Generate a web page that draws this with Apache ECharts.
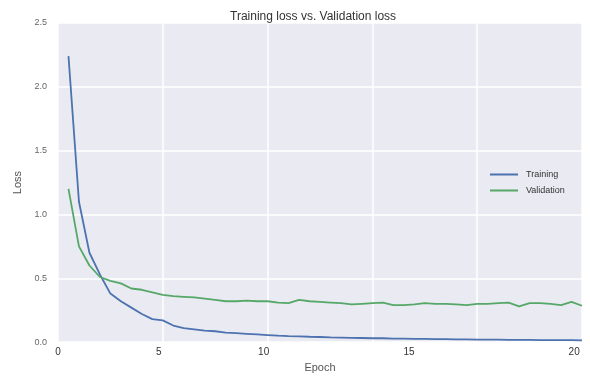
<!DOCTYPE html>
<html>
<head>
<meta charset="utf-8">
<script src="https://cdn.jsdelivr.net/npm/echarts@6/dist/echarts.min.js"></script>
<style>html,body{margin:0;padding:0;background:#fff}#c{width:590px;height:378px}</style>
</head>
<body>
<div id="c"></div>
<script>
var epochs = [0.4,0.8,1.2,1.6,2.0,2.4,2.8,3.2,3.6,4.0,4.4,4.8,5.2,5.6,6.0,6.4,6.8,7.2,7.6,8.0,8.4,8.8,9.2,9.6,10.0,10.4,10.8,11.2,11.6,12.0,12.4,12.8,13.2,13.6,14.0,14.4,14.8,15.2,15.6,16.0,16.4,16.8,17.2,17.6,18.0,18.4,18.8,19.2,19.6,20.0];
var trainingLoss = [2.24,1.10,0.70,0.53,0.38,0.32,0.27,0.22,0.18,0.17,0.13,0.11,0.10,0.09,0.085,0.075,0.07,0.065,0.06,0.055,0.05,0.047,0.045,0.042,0.04,0.037,0.035,0.033,0.032,0.03,0.03,0.028,0.027,0.026,0.025,0.024,0.023,0.022,0.021,0.02,0.02,0.019,0.018,0.018,0.017,0.016,0.016,0.015,0.015,0.014];
var validationLoss = [1.20,0.75,0.60,0.51,0.48,0.46,0.42,0.41,0.39,0.37,0.36,0.355,0.35,0.34,0.33,0.32,0.32,0.325,0.32,0.32,0.31,0.305,0.33,0.32,0.315,0.31,0.305,0.295,0.30,0.305,0.31,0.29,0.29,0.295,0.305,0.30,0.30,0.295,0.29,0.30,0.30,0.305,0.31,0.28,0.305,0.305,0.30,0.29,0.315,0.285];
var xTickLabels = ['0','5','10','15','20'];
var xTickValues = [0, 3.85, 7.85, 13.4, 19.7];
var yTicks = [0, 0.5, 1.0, 1.5, 2.0, 2.5];

function pairs(xs, ys){ return xs.map(function(x,i){ return [x, ys[i]]; }); }

var chart = echarts.init(document.getElementById('c'), null, {renderer:'canvas'});
var font = "'Liberation Sans', Arial, sans-serif";
chart.setOption({
  animation: false,
  textStyle: {fontFamily: font},
  title: {
    text: 'Training loss vs. Validation loss',
    left: 225, top: 6,
    textStyle: {fontSize: 12, fontWeight: 'normal', color: '#333', fontFamily: font}
  },
  legend: {
    orient: 'vertical',
    left: 490, top: 170, padding: 0,
    icon: 'rect',
    itemWidth: 28, itemHeight: 2, itemGap: 7,
    textStyle: {fontSize: 9, color: '#333', fontFamily: font, padding: [0, 0, 0, 3]},
    data: ['Training', 'Validation']
  },
  grid: {
    left: 58, top: 23, right: 8, bottom: 31,
    show: true, backgroundColor: '#EAEAF2', borderWidth: 0
  },
  xAxis: {
    type: 'value', min: 0, max: 20, interval: 4,
    axisLine: {show: false}, axisTick: {show: false},
    splitLine: {show: true, lineStyle: {color: '#ffffff', width: 1.5}},
    axisLabel: {
      customValues: xTickValues,
      formatter: function(v){
        var best = 0, bd = 1e9;
        for (var i = 0; i < xTickValues.length; i++) { var d = Math.abs(xTickValues[i]-v); if (d < bd) { bd = d; best = i; } }
        return xTickLabels[best];
      },
      fontSize: 10, color: '#333', margin: 5, fontFamily: font
    },
    name: 'Epoch', nameLocation: 'middle', nameGap: 18,
    nameTextStyle: {fontSize: 11, color: '#555', fontFamily: font}
  },
  yAxis: {
    type: 'value', min: yTicks[0], max: yTicks[yTicks.length-1], interval: 0.5,
    axisLine: {show: false}, axisTick: {show: false},
    splitLine: {show: true, lineStyle: {color: '#ffffff', width: 1.5}},
    axisLabel: {formatter: function(v){ return v.toFixed(1); }, fontSize: 9, color: '#666', margin: 11, fontFamily: font},
    name: 'Loss', nameLocation: 'middle', nameGap: 31,
    nameTextStyle: {fontSize: 11, color: '#555', fontFamily: font}
  },
  series: [
    {name: 'Training', type: 'line', data: pairs(epochs, trainingLoss), symbol: 'none', smooth: false,
     lineStyle: {color: '#4C72B0', width: 1.8}, itemStyle: {color: '#4C72B0'}},
    {name: 'Validation', type: 'line', data: pairs(epochs, validationLoss), symbol: 'none', smooth: false,
     lineStyle: {color: '#55A868', width: 1.8}, itemStyle: {color: '#55A868'}}
  ]
});
</script>
</body>
</html>
